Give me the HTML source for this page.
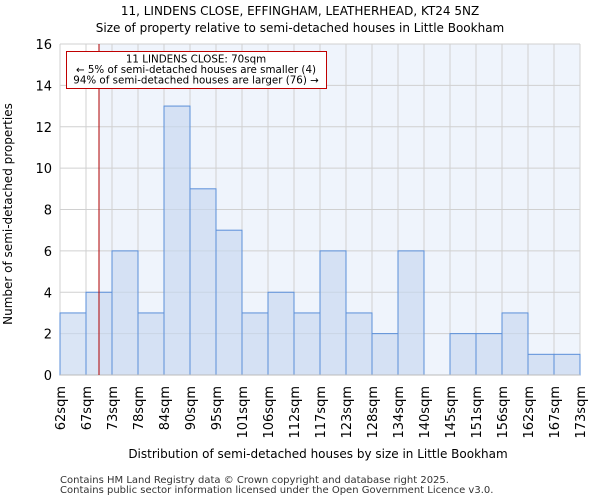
<!DOCTYPE html>
<html><head><meta charset="utf-8"><style>
body{margin:0;background:#fff;font-family:"DejaVu Sans","Liberation Sans",sans-serif}
text{font-family:"DejaVu Sans","Liberation Sans",sans-serif}
</style></head><body>
<svg id="c" width="600" height="500" viewBox="0 0 600 500" xmlns="http://www.w3.org/2000/svg">
<text x="300" y="15" text-anchor="middle" font-size="12">11, LINDENS CLOSE, EFFINGHAM, LEATHERHEAD, KT24 5NZ</text>
<text x="300" y="32" text-anchor="middle" font-size="12">Size of property relative to semi-detached houses in Little Bookham</text>
<g id="plot"></g>
<text x="318" y="458" text-anchor="middle" font-size="12">Distribution of semi-detached houses by size in Little Bookham</text>
<text transform="translate(12,214) rotate(-90)" text-anchor="middle" font-size="12">Number of semi-detached properties</text>
<text x="60" y="483" font-size="10" fill="#333">Contains HM Land Registry data © Crown copyright and database right 2025.</text>
<text x="60" y="493" font-size="10" fill="#333">Contains public sector information licensed under the Open Government Licence v3.0.</text>
</svg>
<script>
const binLabels=["62sqm","67sqm","73sqm","78sqm","84sqm","90sqm","95sqm","101sqm","106sqm","112sqm","117sqm","123sqm","128sqm","134sqm","140sqm","145sqm","151sqm","156sqm","162sqm","167sqm","173sqm"];
const counts=[3,4,6,3,13,9,7,3,4,3,6,3,2,6,0,2,2,3,1,1];
const yTicks=[0,2,4,6,8,10,12,14,16];
const propertyIndex=1.5; // position of 70sqm in bin units
const NS="http://www.w3.org/2000/svg";
const L=60,R=580,T=44,B=375,yMax=16;
const bw=(R-L)/counts.length;
const x=i=>L+i*bw;
const y=v=>B-(v/yMax)*(B-T);
const g=document.getElementById('plot');
function mk(t,a){const e=document.createElementNS(NS,t);for(const k in a)e.setAttribute(k,a[k]);g.appendChild(e);return e;}
const px=x(propertyIndex);
let e=mk('rect',{x:px,y:T,width:R-px,height:B-T,fill:'#eff4fc'});


yTicks.forEach(v=>{const l=mk('line',{x1:L,x2:R,y1:y(v),y2:y(v),stroke:'#d0d0d0','stroke-width':1});


const t=mk('text',{x:L-8,y:y(v)+5,'text-anchor':'end','font-size':13});t.textContent=v;

});
binLabels.forEach((s,i)=>{const l=mk('line',{x1:x(i),x2:x(i),y1:T,y2:B,stroke:'#d0d0d0','stroke-width':1});


const t=mk('text',{transform:`translate(${x(i)+5},386) rotate(-90)`,'text-anchor':'end','font-size':13});t.textContent=s;

});
counts.forEach((c,i)=>{if(c<=0)return;const r=mk('rect',{x:x(i),y:y(c),width:bw,height:B-y(c),fill:'#c6d7ef','fill-opacity':0.65,stroke:'#5b8fd9','stroke-width':1});

});
e=mk('line',{x1:L,x2:R,y1:B,y2:B,stroke:'#bbbbbb'});


e=mk('line',{x1:px,x2:px,y1:T,y2:B,stroke:'#b00000','stroke-width':1});


e=mk('rect',{x:66.5,y:51.5,width:260,height:37,fill:'#fff',stroke:'#c00000','stroke-width':1});


["11 LINDENS CLOSE: 70sqm","← 5% of semi-detached houses are smaller (4)","94% of semi-detached houses are larger (76) →"].forEach((s,i)=>{const t=mk('text',{x:196,y:62.5+i*10.5,'text-anchor':'middle','font-size':10.3});t.textContent=s;

});
</script>
</body></html>
